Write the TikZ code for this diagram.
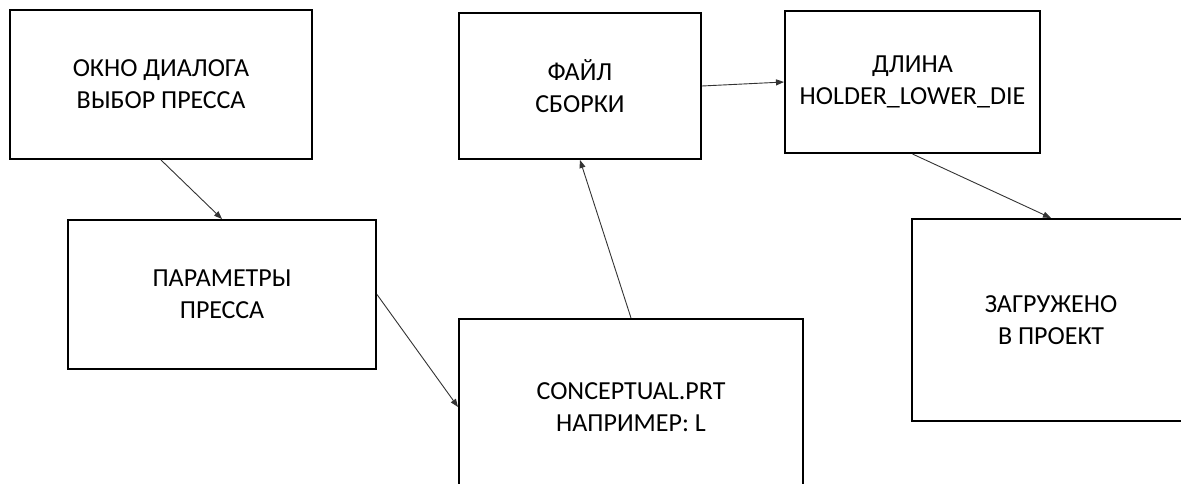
\documentclass[tikz,border=0pt]{standalone}
\usepackage{fontspec}
\setmainfont{Carlito}
\usepackage{tikz}
\usetikzlibrary{arrows.meta,positioning}

\begin{document}
\begin{tikzpicture}[
  x=1pt, y=-1pt,
  box/.style={draw, line width=2pt, inner sep=0pt, align=center,
              font=\fontsize{26}{32}\selectfont},
  arrow/.style={-{Triangle[length=8pt,width=6pt]}, line width=0.9pt, black!80}
]
\useasboundingbox (0,0) rectangle (1181,484);
\clip (0,0) rectangle (1181,484);

\node[box, minimum width=302pt, minimum height=149pt] (okno)    at (161,84.5) {ОКНО ДИАЛОГА\\ВЫБОР ПРЕССА};
\node[box, minimum width=308pt, minimum height=149pt] (param)   at (222,294.5) {ПАРАМЕТРЫ\\ПРЕССА};
\node[box, minimum width=242pt, minimum height=146pt] (fajl)    at (580,86) {ФАЙЛ\\СБОРКИ};
\node[box, minimum width=255pt, minimum height=142pt] (dlina)   at (912.5,82) {ДЛИНА\\HOLDER\_LOWER\_DIE};
\node[box, minimum width=278pt, minimum height=202pt] (zagr)    at (1051,320) {ЗАГРУЖЕНО\\В ПРОЕКТ};
\node[box, minimum width=344pt, minimum height=176pt] (concept) at (631,407) {CONCEPTUAL.PRT\\НАПРИМЕР: L};

\draw[arrow] (okno.south) -- (param.north);
\draw[arrow] (param.east) -- (concept.west);
\draw[arrow] (concept.north) -- (fajl.south);
\draw[arrow] (fajl.east) -- (dlina.west);
\draw[arrow] (dlina.south) -- (zagr.north);
\end{tikzpicture}
\end{document}
